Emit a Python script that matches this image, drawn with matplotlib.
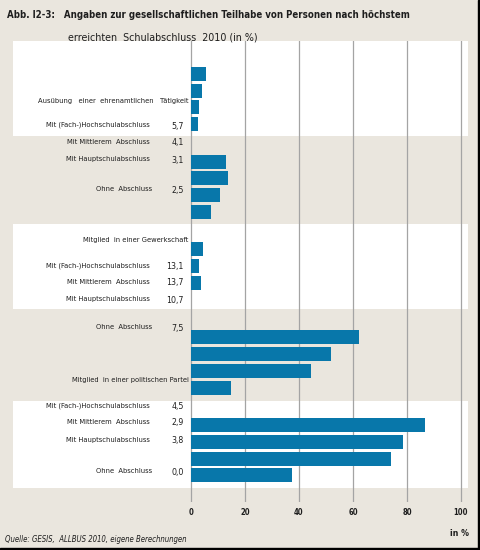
import matplotlib
matplotlib.use("Agg")
import matplotlib.pyplot as plt
from matplotlib.patches import Rectangle

# data (in %), five blocks of four bars each
block1 = [5.7, 4.1, 3.1, 2.5]
block2 = [13.1, 13.7, 10.7, 7.5]
block3 = [4.5, 2.9, 3.8, 0.0]
block4 = [62.3, 51.9, 44.4, 14.8]
block5 = [86.7, 78.5, 74.1, 37.4]
blocks = [block1, block2, block3, block4, block5]

groups = ["Ausübung   einer  ehrenamtlichen   Tätigkeit",
          "Mitglied  in einer Gewerkschaft",
          "Mitglied  in einer politischen Partei"]
schools = ["Mit (Fach-)Hochschulabschluss", "Mit Mittlerem  Abschluss",
           "Mit Hauptschulabschluss", "Ohne  Abschluss"]
value_labels = [["5,7", "4,1", "3,1", "2,5"],
                ["13,1", "13,7", "10,7", "7,5"],
                ["4,5", "2,9", "3,8", "0,0"]]
ticks = [0, 20, 40, 60, 80, 100]

W, H = 481, 550
BG = "#EAE6DE"
BAR = "#0877AA"
GRID = "#A4A4A4"
FONT = "DejaVu Sans"
STRETCH = "condensed"
INK = "#1E1E1E"

fig = plt.figure(figsize=(W / 100, H / 100), dpi=100, facecolor=BG)


def fx(x):
    return x / W


def fy(y):
    return 1 - y / H


# axes in pixel units: x from 13 to 468, y from 41 to 502
ax = fig.add_axes([fx(13), fy(502), fx(468) - fx(13), fy(41) - fy(502)])
ax.set_facecolor(BG)
x0, ppu = 191, 2.7  # pixel of 0 and pixels per %
ax.set_xlim((13 - x0) / ppu, (468 - x0) / ppu)
ax.set_ylim(502, 41)

# white bands
for top, bot in [(41, 136), (223.5, 309), (401, 488)]:
    ax.axhspan(top, bot, color="white", zorder=0, lw=0)

ax.set_axisbelow(True)
ax.grid(axis="x", color=GRID, lw=0.9)
ax.grid(axis="y", visible=False)
ax.set_xticks(ticks)
ax.set_xticklabels([str(t) for t in ticks], fontsize=5.5, fontweight="bold",
                   family=FONT, fontstretch=STRETCH, color=INK)
ax.tick_params(axis="x", length=0, pad=4)
ax.set_yticks([])
for s in ax.spines.values():
    s.set_visible(False)

# bars
for g, vals in enumerate(blocks):
    ys = [73.7 + 87.8 * g + 16.8 * i for i in range(len(vals))]
    ax.barh(ys, vals, height=14, color=BAR, zorder=2)

# text labels (garbled layout of the original)
txt = dict(fontsize=5.4, family=FONT, fontstretch=STRETCH, color=INK,
           va="center")
fig.text(fx(188), fy(101), groups[0], ha="right", **txt)
fig.text(fx(188), fy(240), groups[1], ha="right", **txt)
fig.text(fx(189), fy(380), groups[2], ha="right", **txt)

label_rows = [[125, 142, 159, 189], [266, 282, 299, 327], [406, 422, 440, 471]]
for k, rows in enumerate(label_rows):
    for i, y in enumerate(rows):
        xr = 150 if i != 3 else 152
        fig.text(fx(xr), fy(y), schools[i], ha="right", **txt)
        fig.text(fx(184), fy(y + 1), value_labels[k][i], ha="right",
                 fontsize=6.3, family=FONT, fontstretch=STRETCH, color=INK,
                 va="center")

# titles
fig.text(fx(7), fy(15), "Abb. I2-3:   Angaben zur gesellschaftlichen Teilhabe von Personen nach höchstem",
         fontsize=6.9, fontweight="bold", family=FONT, fontstretch=STRETCH,
         color=INK, va="center")
fig.text(fx(68), fy(38), "erreichten  Schulabschluss  2010 (in %)",
         fontsize=7.7, family=FONT, fontstretch=STRETCH, color=INK,
         va="center")
fig.text(fx(469), fy(533), "in %", fontsize=6.3, family=FONT,
         fontstretch=STRETCH, color=INK, ha="right", va="center",
         fontweight="bold")
fig.text(fx(5), fy(539), "Quelle: GESIS,  ALLBUS 2010, eigene Berechnungen",
         fontsize=5.6, family=FONT, fontstretch=STRETCH, color=INK,
         style="italic", va="center")

# black frame on right and bottom edge
fig.patches.append(Rectangle((fx(478), 0), 1 - fx(478), 1, transform=fig.transFigure,
                             color="black", zorder=5))
fig.patches.append(Rectangle((0, 0), 1, fy(548), transform=fig.transFigure,
                             color="black", zorder=5))

fig.savefig("out.png", dpi=100, facecolor=BG)
